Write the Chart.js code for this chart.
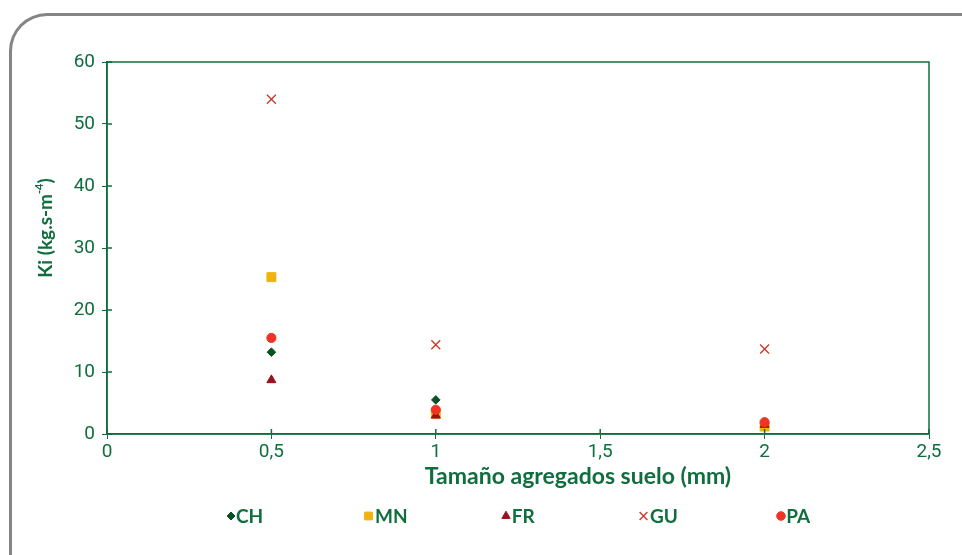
<!DOCTYPE html>
<html>
<head>
<meta charset="utf-8">
<script src="https://cdn.jsdelivr.net/npm/chart.js@4"></script>
<style>
  html, body { margin: 0; padding: 0; background: #fff; }
  #wrap { position: relative; width: 962px; height: 555px; overflow: hidden; }
  #frame {
    position: absolute; left: 9px; top: 13px; width: 1000px; height: 600px;
    border: 3px solid #858585; border-right: none; border-bottom: none;
    border-top-left-radius: 38px;
  }
  canvas { position: absolute; left: 0; top: 0; }
</style>
</head>
<body>
<div id="wrap">
  <div id="frame"></div>
  <canvas id="chart" width="962" height="555"></canvas>
</div>
<script>
const sizes = [0.5, 1, 2];
const seriesNames = ["CH", "MN", "FR", "GU", "PA"];
const valuesCH = [13.2, 5.5, 1.6];
const valuesMN = [25.3, 3.2, 1.2];
const valuesFR = [8.7, 3.0, 1.5];
const valuesGU = [54.0, 14.4, 13.7];
const valuesPA = [15.5, 3.9, 1.9];
const yTicks = [0, 10, 20, 30, 40, 50, 60];
const xTicks = [0, 0.5, 1, 1.5, 2, 2.5];
const xTitle = "Tamaño agregados suelo (mm)";
const yTitle = ["Ki (kg.s-m", "-4", ")"];

const green = "#0f6e3d";
const tickFont = 'Roboto, "Liberation Sans", sans-serif';
const titleFont = 'Lato, "Open Sans", sans-serif';

const pts = (vals) => sizes.map((x, i) => ({ x: x, y: vals[i] }));

// frame round the plot area, inner half of each tick, and the two axis titles
const frameTicks = {
  id: "frameTicks",
  afterDraw(chart) {
    const { ctx, chartArea: a, scales } = chart;
    ctx.save();
    ctx.strokeStyle = green;
    ctx.lineWidth = 1.5;
    ctx.strokeRect(a.left, a.top, a.right - a.left, a.bottom - a.top);
    ctx.beginPath();
    yTicks.forEach((v) => {
      const y = scales.y.getPixelForValue(v);
      ctx.moveTo(a.left, y); ctx.lineTo(a.left + 5, y);
    });
    xTicks.forEach((v) => {
      const x = scales.x.getPixelForValue(v);
      ctx.moveTo(x, a.bottom); ctx.lineTo(x, a.bottom - 5);
    });
    ctx.stroke();

    ctx.fillStyle = green;
    ctx.textBaseline = "middle";
    // x title sits a little right of centre in the original
    ctx.font = "bold 23px " + titleFont;
    ctx.textAlign = "center";
    ctx.fillText(xTitle, 578, 477);

    // y title, rotated, with a raised small "-4"
    ctx.translate(45, 228);
    ctx.rotate(-Math.PI / 2);
    ctx.font = "bold 19px " + titleFont;
    const w0 = ctx.measureText(yTitle[0]).width;
    const w2 = ctx.measureText(yTitle[2]).width;
    ctx.font = "bold 11px " + titleFont;
    const w1 = ctx.measureText(yTitle[1]).width;
    let x = -(w0 + w1 + w2) / 2;
    ctx.textAlign = "left";
    ctx.font = "bold 19px " + titleFont;
    ctx.fillText(yTitle[0], x, 1);
    x += w0;
    ctx.font = "bold 11px " + titleFont;
    ctx.fillText(yTitle[1], x, -6);
    x += w1;
    ctx.font = "bold 19px " + titleFont;
    ctx.fillText(yTitle[2], x, 1);
    ctx.restore();
  },
};

// evenly spaced legend row under the axis title, marker tight against its label
const legendRow = {
  id: "legendRow",
  afterDraw(chart) {
    const { ctx } = chart;
    const startX = 231, step = 137.5, y = 516;
    chart.data.datasets.forEach((ds, i) => {
      const x = startX + i * step;
      ctx.save();
      ctx.fillStyle = ds.backgroundColor;
      ctx.strokeStyle = ds.borderColor;
      ctx.lineWidth = ds.borderWidth || 1;
      Chart.helpers.drawPoint(ctx, {
        pointStyle: ds.pointStyle,
        radius: ds.legendRadius,
        borderWidth: ds.borderWidth || 1,
      }, x, y);
      ctx.font = "bold 19px " + titleFont;
      ctx.textBaseline = "middle";
      ctx.fillStyle = green;
      ctx.fillText(ds.label, x + ds.legendRadius + 1, y + 1);
      ctx.restore();
    });
  },
};

new Chart(document.getElementById("chart"), {
  type: "scatter",
  data: {
    datasets: [
      { label: seriesNames[0], data: pts(valuesCH), pointStyle: "rectRot", pointRadius: 4.3, legendRadius: 4, backgroundColor: "#0b5128", borderColor: "#0b5128", order: 5 },
      { label: seriesNames[1], data: pts(valuesMN), pointStyle: "rect", pointRadius: 6.3, legendRadius: 5.5, backgroundColor: "#f0b20e", borderColor: "#f0b20e", order: 4 },
      { label: seriesNames[2], data: pts(valuesFR), pointStyle: "triangle", pointRadius: 5.2, legendRadius: 4.8, backgroundColor: "#9e0f1d", borderColor: "#9e0f1d", order: 3 },
      { label: seriesNames[3], data: pts(valuesGU), pointStyle: "crossRot", pointRadius: 6.3, legendRadius: 5.5, backgroundColor: "#cc3a2a", borderColor: "#cc3a2a", borderWidth: 1.4, order: 2 },
      { label: seriesNames[4], data: pts(valuesPA), pointStyle: "circle", pointRadius: 4.6, legendRadius: 4.3, backgroundColor: "#ef3425", borderColor: "#ef3425", order: 1 },
    ],
  },
  options: {
    responsive: false,
    animation: false,
    layout: { padding: { left: 0, right: 33, top: 62, bottom: 61 } },
    plugins: {
      tooltip: { enabled: false },
      legend: { display: false },
    },
    scales: {
      x: {
        type: "linear",
        min: 0, max: 2.5,
        afterBuildTicks: (s) => { s.ticks = xTicks.map((v) => ({ value: v })); },
        afterFit: (s) => { s.height = 60; },
        grid: { display: true, drawOnChartArea: false, color: green, tickLength: 5, tickColor: green },
        border: { color: green, width: 1.5 },
        ticks: {
          color: green, padding: 2,
          font: { family: tickFont, size: 19 },
          callback: (v) => String(v).replace(".", ","),
        },
      },
      y: {
        min: 0, max: 60,
        afterBuildTicks: (s) => { s.ticks = yTicks.map((v) => ({ value: v })); },
        afterFit: (s) => { s.width = 107; },
        grid: { display: true, drawOnChartArea: false, color: green, tickLength: 5, tickColor: green },
        border: { color: green, width: 1.5 },
        ticks: { color: green, padding: 7, font: { family: tickFont, size: 19 } },
      },
    },
  },
  plugins: [frameTicks, legendRow],
});
</script>
</body>
</html>
